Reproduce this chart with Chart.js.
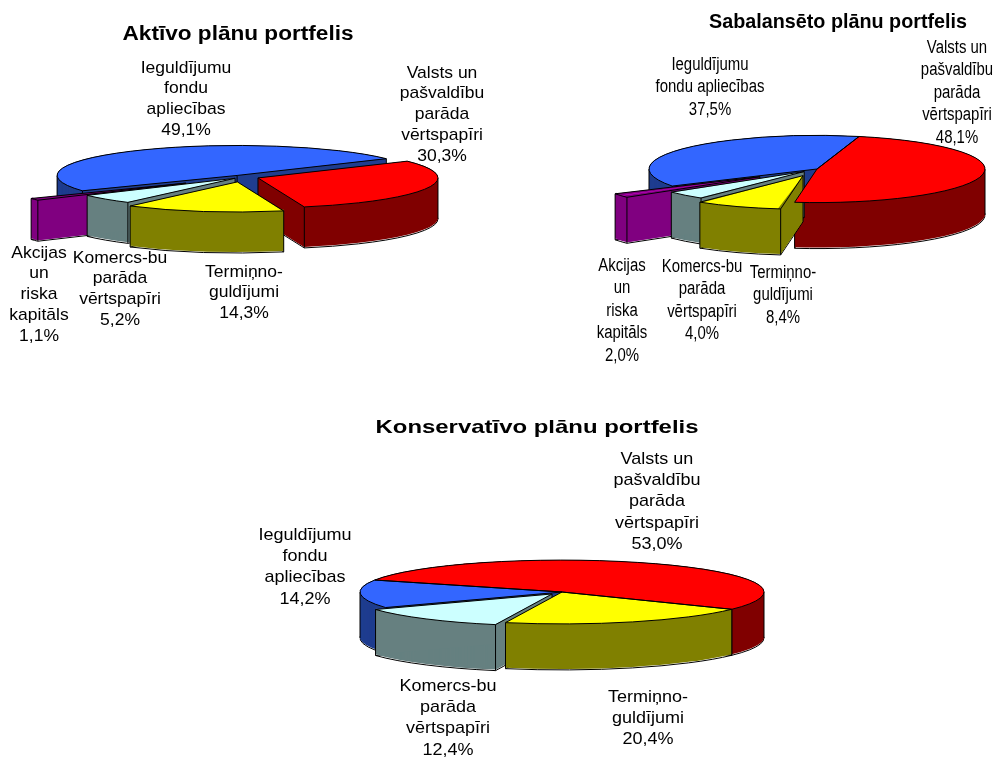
<!DOCTYPE html>
<html lang="lv">
<head>
<meta charset="utf-8">
<title>Plānu portfeļi</title>
<script src="https://cdn.jsdelivr.net/npm/chart.js@4"></script>
<style>
    html, body { margin: 0; background: #fff; }
    #page { position: relative; width: 994px; height: 758px; overflow: hidden; }
    canvas { position: absolute; left: 0; top: 0; }
</style>
</head>
<body>
<div id="page">
    <canvas id="aktivo" width="994" height="758"></canvas>
    <canvas id="sabalanseto" width="994" height="758"></canvas>
    <canvas id="konservativo" width="994" height="758"></canvas>
</div>
<script>
const valsts = ['Valsts un', 'pašvaldību', 'parāda', 'vērtspapīri']
const terminno = ['Termiņno-', 'guldījumi']
const komercs = ['Komercs-bu', 'parāda', 'vērtspapīri']
const akcijas = ['Akcijas', 'un', 'riska', 'kapitāls']
const ieguldijumu = ['Ieguldījumu', 'fondu', 'apliecības']
const ieguldijumuShort = ['Ieguldījumu', 'fondu apliecības']

const aktivoLabels = [valsts, terminno, komercs, akcijas, ieguldijumu]
const aktivoValues = [30.3, 14.3, 5.2, 1.1, 49.1]
const sabalansetoLabels = [valsts, terminno, komercs, akcijas, ieguldijumuShort]
const sabalansetoValues = [48.1, 8.4, 4.0, 2.0, 37.5]
const konservativoLabels = [valsts, terminno, komercs, ieguldijumu]
const konservativoValues = [53.0, 20.4, 12.4, 14.2]

const topColors = { valsts: '#ff0000', termin: '#ffff00', komercs: '#ccffff', akcijas: '#ff00ff', fondi: '#3366ff' }
const sideColors = { valsts: '#800000', termin: '#808000', komercs: '#668080', akcijas: '#800080', fondi: '#1f3d8f' }
const fiveSlices = ['valsts', 'termin', 'komercs', 'akcijas', 'fondi']
const fourSlices = ['valsts', 'termin', 'komercs', 'fondi']

/**
 * @name arcShift
 * @description Shift and radius growth that ArcElement.draw applies for the offset option.
 */
function arcShift(arc) {
    const offset = (arc.options.offset || 0) / 4
    const fix = 1 - Math.sin(Math.min(Math.PI, arc.circumference))
    const mid = (arc.startAngle + arc.endAngle) / 2
    return { x: Math.cos(mid) * offset, y: Math.sin(mid) * offset, grow: offset * fix }
}

function wedgePath(ctx, arc, spec, dy) {
    const s = arcShift(arc)
    const x = spec.cx + s.x
    const y = spec.cy + s.y * spec.tilt + dy
    ctx.beginPath()
    ctx.moveTo(x, y)
    ctx.ellipse(x, y, spec.radius, spec.radius * spec.tilt, 0, arc.startAngle, arc.endAngle)
    ctx.closePath()
}

function insideWedge(arc, spec, x, y, px, py) {
    const dx = px - x
    const dy = (py - y) / spec.tilt
    if (Math.hypot(dx, dy) >= spec.radius) return false
    let a = Math.atan2(dy, dx)
    while (a < arc.startAngle) a += 2 * Math.PI
    return a < arc.endAngle
}

function drawWall(ctx, arc, spec, color) {
    const s = arcShift(arc)
    const x = spec.cx + s.x
    const y = spec.cy + s.y * spec.tilt
    const R = spec.radius
    const ry = R * spec.tilt
    const h = spec.depth - 1
    const rim = (a) => [x + Math.cos(a) * R, y + Math.sin(a) * ry]

    ctx.lineWidth = 1
    ctx.strokeStyle = '#000'
    wedgePath(ctx, arc, spec, spec.depth)
    ctx.stroke()

    // body: stacked wedges plus the rim, thin slices would stay pale otherwise
    ctx.fillStyle = color
    ctx.strokeStyle = color
    ctx.lineWidth = 1.4
    for (let dy = h; dy >= 0; dy--) {
        wedgePath(ctx, arc, spec, dy)
        ctx.fill()
        if (dy < h) {
            ctx.beginPath()
            ctx.ellipse(x, y + dy, R - 0.7, ry - 0.7, 0, arc.startAngle, arc.endAngle)
            ctx.stroke()
        }
    }
    ;[arc.startAngle, arc.endAngle].forEach((a) => {
        const p = rim(a)
        ctx.beginPath()
        ctx.moveTo(x, y)
        ctx.lineTo(p[0], p[1])
        ctx.lineTo(p[0], p[1] + h)
        ctx.lineTo(x, y + h)
        ctx.closePath()
        ctx.fill()
    })

    // vertical edges: the tip, both cut faces and the silhouette of the rim
    const corners = [[x, y]]
    const angles = [arc.startAngle, arc.endAngle]
    for (let a = -2 * Math.PI; a <= 4 * Math.PI; a += Math.PI) {
        if (a > arc.startAngle && a < arc.endAngle) angles.push(a)
    }
    angles.forEach((a) => corners.push(rim(a)))

    ctx.lineWidth = 1
    ctx.strokeStyle = '#000'
    ctx.beginPath()
    corners.forEach((p) => {
        if (insideWedge(arc, spec, x, y, p[0], p[1] + 2)) return
        ctx.moveTo(p[0], p[1])
        ctx.lineTo(p[0], p[1] + spec.depth)
    })
    ctx.stroke()
}

function drawStretched(ctx, text, x, y, stretch) {
    ctx.save()
    ctx.translate(x, y)
    ctx.scale(stretch, 1)
    ctx.fillText(text, 0, 0)
    ctx.restore()
}

/**
 * @name tiltPlugin
 * @description Lays the pie of a chart down: walls first, library arcs under a squashed transform, then outlines and text.
 * @param {object} spec
 */
function tiltPlugin(spec) {
    return {
        id: 'tilt',
        beforeDatasetDraw(chart) {
            const ctx = chart.ctx
            const arcs = chart.getDatasetMeta(0).data
            const order = arcs
                .map((arc, i) => ({ arc: arc, i: i }))
                .sort((a, b) => Math.sin((a.arc.startAngle + a.arc.endAngle) / 2) - Math.sin((b.arc.startAngle + b.arc.endAngle) / 2))
            ctx.save()
            order.forEach((o) => drawWall(ctx, o.arc, spec, spec.walls[o.i]))
            ctx.restore()

            // ArcElement grows the radius along with the offset, take that back
            arcs.forEach((arc) => {
                arc.outerRadius = spec.radius - arcShift(arc).grow
            })

            ctx.save()
            ctx.translate(spec.cx, spec.cy)
            ctx.scale(1, spec.tilt)
            ctx.translate(-arcs[0].x, -arcs[0].y)
        },
        afterDatasetDraw(chart) {
            const ctx = chart.ctx
            ctx.restore()
            ctx.save()
            ctx.lineWidth = 1
            ctx.strokeStyle = '#000'
            chart.getDatasetMeta(0).data.forEach((arc) => {
                wedgePath(ctx, arc, spec, 0)
                ctx.stroke()
            })
            ctx.restore()
        },
        afterDraw(chart) {
            const ctx = chart.ctx
            const values = chart.data.datasets[0].data
            ctx.save()
            ctx.fillStyle = '#000'
            ctx.textAlign = 'center'
            ctx.textBaseline = 'middle'

            ctx.font = 'bold ' + spec.titleSize + 'px "Liberation Sans"'
            const natural = ctx.measureText(spec.title).width
            drawStretched(ctx, spec.title, spec.titleX, spec.titleY, spec.titleWidth / natural)

            ctx.font = spec.textSize + 'px "Liberation Sans"'
            chart.data.labels.forEach((lines, i) => {
                const pct = values[i].toFixed(1).replace('.', ',') + '%'
                lines.concat(pct).forEach((line, n) => {
                    drawStretched(ctx, line, spec.labelX[i], spec.labelY[i] + n * spec.lineGap, spec.textStretch)
                })
            })
            ctx.restore()
        },
    }
}

/**
 * @name renderPie
 * @description Renders one tilted pie to its canvas.
 */
function renderPie(id, labels, values, keys, spec) {
    spec.walls = keys.map((k) => sideColors[k])
    new Chart(document.getElementById(id).getContext('2d'), {
        type: 'pie',
        data: {
            labels: labels,
            datasets: [
                {
                    data: values,
                    backgroundColor: keys.map((k) => topColors[k]),
                    borderWidth: 0,
                    offset: spec.explode.map((px) => px * 4),
                    clip: false,
                },
            ],
        },
        options: {
            responsive: false,
            animation: false,
            events: [],
            rotation: spec.rotation,
            radius: spec.radius,
            plugins: { legend: { display: false }, tooltip: { enabled: false } },
        },
        plugins: [tiltPlugin(spec)],
    })
}

renderPie('aktivo', aktivoLabels, aktivoValues, fiveSlices, {
    cx: 243, cy: 177, radius: 180, tilt: 1 / 6, depth: 41, rotation: 56,
    explode: [16, 30, 11, 68, 11],
    title: 'Aktīvo plānu portfelis', titleX: 238, titleY: 34, titleWidth: 231, titleSize: 20,
    labelX: [442, 244, 120, 39, 186],
    labelY: [73, 272, 258, 253, 68],
    textSize: 17, lineGap: 20.8, textStretch: 1.03,
})

renderPie('sabalanseto', sabalansetoLabels, sabalansetoValues, fiveSlices, {
    cx: 817, cy: 169, radius: 168, tilt: 0.2, depth: 46, rotation: 14.5,
    explode: [0, 36, 18, 69, 0],
    title: 'Sabalansēto plānu portfelis', titleX: 838, titleY: 22, titleWidth: 258, titleSize: 21,
    labelX: [957, 783, 702, 622, 710],
    labelY: [48, 273, 267, 266, 65],
    textSize: 18, lineGap: 22.4, textStretch: 0.83,
})

renderPie('konservativo', konservativoLabels, konservativoValues, fourSlices, {
    cx: 562, cy: 592, radius: 202, tilt: 0.158, depth: 46, rotation: -68,
    explode: [0, 0, 16, 0],
    title: 'Konservatīvo plānu portfelis', titleX: 537, titleY: 428, titleWidth: 323, titleSize: 19,
    labelX: [657, 648, 448, 305],
    labelY: [459, 697, 686, 535],
    textSize: 17, lineGap: 21.4, textStretch: 1.06,
})
</script>
</body>
</html>
